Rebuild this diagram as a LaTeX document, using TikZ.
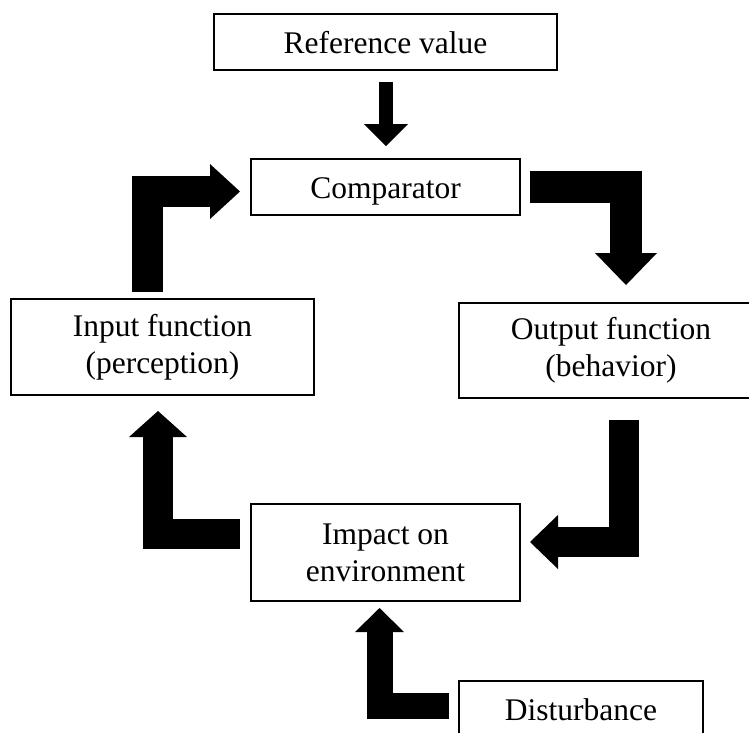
\documentclass[tikz,border=0pt]{standalone}
\usepackage{fontspec}
\setmainfont{Liberation Serif}
\usetikzlibrary{arrows.meta,positioning}
\tikzset{mybox/.style={
  shape=rectangle,
  draw=black,
  line width=1.6pt,
  align=center,
  inner sep=0pt,
  outer sep=0pt,
  font=\fontsize{31.5}{37}\selectfont,
  }
}
\tikzset{myline/.style={
  text height=23pt,
  text depth=0pt,
  }
}
\tikzset{bigarrow/.style n args={3}{
  line width=#1,
  -{Triangle[width=#2, length=#3, line width=0pt]},
  }
}

\begin{document}
\begin{tikzpicture}[x=1pt,y=-1pt]
  \useasboundingbox (0,0) rectangle (749,732);

  \node [mybox, myline, minimum width=343pt, minimum height=56pt] (ref) at (385.5,42) {Reference value};
  \node [mybox, myline, minimum width=269pt, minimum height=56pt, below =89pt of ref] (cmp) {Comparator};
  \node [mybox, minimum width=303pt, minimum height=96pt] (inp) at (162.5,347) {Input function\\(perception)};
  \node [mybox, minimum width=304pt, minimum height=95pt] (outp) at (611,350.5) {Output function\\(behavior)};
  \node [mybox, minimum width=269pt, minimum height=97pt, below =289pt of cmp] (imp) {Impact on\\environment};
  \node [mybox, myline, minimum width=244pt, minimum height=56pt] (dist) at (581,709) {Disturbance};

  \coordinate (t1) at (386,82);
  \coordinate (t2) at (386,146);
  \coordinate (c1) at (530,187);
  \coordinate (c2) at (626,285);
  \coordinate (o1) at (624,420);
  \coordinate (o2) at (530,542);
  \coordinate (e1) at (240,534);
  \coordinate (e2) at (158,411);
  \coordinate (p1) at (147.5,292);
  \coordinate (p2) at (240,191.5);
  \coordinate (d1) at (449,705.5);
  \coordinate (d2) at (379.5,608);

  \draw [bigarrow={14pt}{44pt}{22pt}] (t1) -- (t2);
  \draw [bigarrow={32pt}{62pt}{32pt}] (c1) -| (c2);
  \draw [bigarrow={30pt}{54pt}{28pt}] (o1) |- (o2);
  \draw [bigarrow={30pt}{58pt}{26pt}] (e1) -| (e2);
  \draw [bigarrow={31pt}{55pt}{30pt}] (p1) |- (p2);
  \draw [bigarrow={26pt}{49pt}{24pt}] (d1) -| (d2);
\end{tikzpicture}
\end{document}
